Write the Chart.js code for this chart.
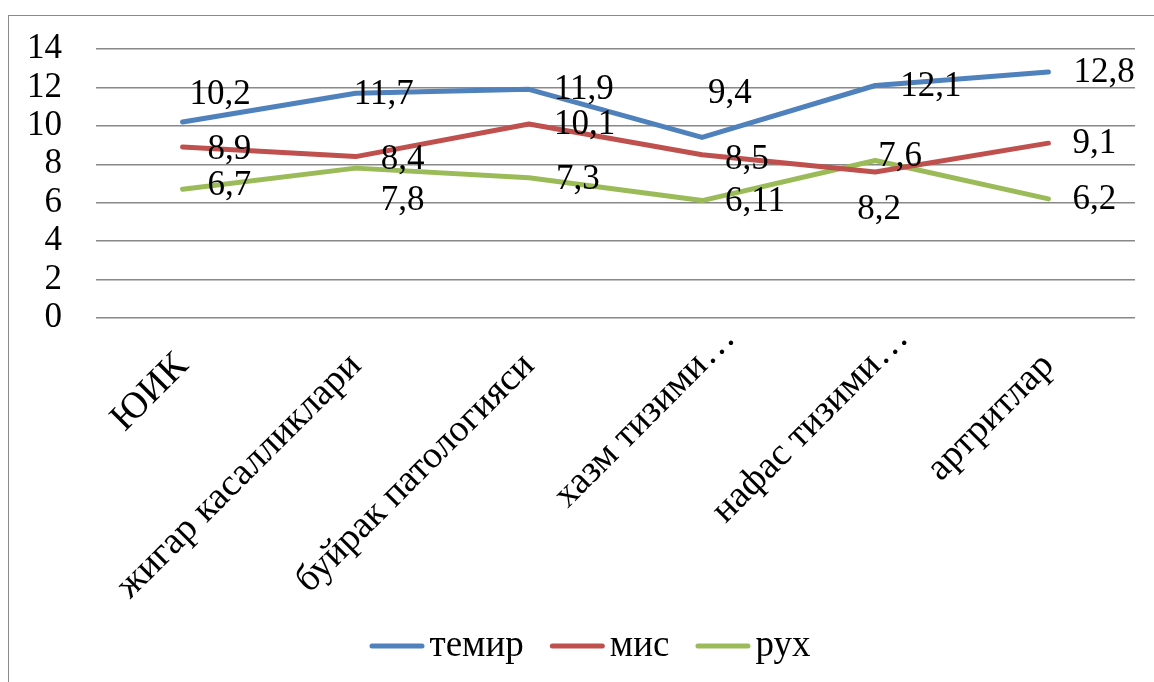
<!DOCTYPE html>
<html>
<head>
<meta charset="utf-8">
<script src="https://cdn.jsdelivr.net/npm/chart.js@4/dist/chart.umd.min.js"></script>
<style>
  html, body { margin: 0; padding: 0; background: #fff; overflow: hidden; }
  #frame { position: absolute; left: 8px; top: 15px; width: 1400px; height: 900px; border: 1px solid #8a8a8a; }
  #c { position: absolute; left: 0; top: 0; }
</style>
</head>
<body>
<div id="frame"></div>
<canvas id="c" width="1154" height="682"></canvas>
<script>
// Categories and series
const categories = ['ЮИК', 'жигар касалликлари', 'буйрак патологияси', 'хазм тизими…', 'нафас тизими…', 'артритлар'];
const seriesNames = ['темир', 'мис', 'рух'];
const temir = [10.2, 11.7, 11.9, 9.4, 12.1, 12.8];
const mis   = [8.9, 8.4, 10.1, 8.5, 7.6, 9.1];
const rukh  = [6.7, 7.8, 7.3, 6.11, 8.2, 6.2];
const yTicks = [0, 2, 4, 6, 8, 10, 12, 14];

const colors = ['#4F81BD', '#C0504D', '#9BBB59'];
const FONT = "'Liberation Serif', serif";
const ELLIPSIS = '…';

// Value label placement: [left-edge offset, vertical offset] from each point
const labelOffsets = [
  [[7, -27], [-2, 2], [25, 0], [6, -44], [25, 1], [25, 1]],
  [[25, 3], [25, 3], [25, 1], [23, 5], [3, -15], [24, 1]],
  [[25, -3], [25, 33], [27, 2], [23, 1], [-18, 49], [24, 1]]
];

const valueLabels = {
  id: 'valueLabels',
  afterDatasetsDraw(chart) {
    const ctx = chart.ctx;
    ctx.save();
    ctx.font = '35px ' + FONT;
    ctx.fillStyle = '#000';
    ctx.textAlign = 'left';
    ctx.textBaseline = 'middle';
    chart.data.datasets.forEach((ds, i) => {
      chart.getDatasetMeta(i).data.forEach((pt, j) => {
        const off = labelOffsets[i][j];
        ctx.fillText(String(ds.data[j]).replace('.', ','), pt.x + off[0], pt.y + off[1]);
      });
    });
    ctx.restore();
  }
};

// Truncated category names: the axis anchors the words, the ellipsis trails past the tick
const trailingEllipsis = {
  id: 'trailingEllipsis',
  afterDraw(chart) {
    const scale = chart.scales.x;
    const items = scale.getLabelItems();
    const ctx = chart.ctx;
    items.forEach((item, i) => {
      if (!categories[i].endsWith(ELLIPSIS)) return;
      const o = item.options;
      ctx.save();
      ctx.translate(o.translation[0], o.translation[1]);
      ctx.rotate(o.rotation);
      ctx.font = item.font.string;
      ctx.fillStyle = '#000';
      ctx.textAlign = 'left';
      ctx.textBaseline = o.textBaseline;
      ctx.fillText(ELLIPSIS, 1, item.textOffset);
      ctx.restore();
    });
  }
};

const bottomLegend = {
  id: 'bottomLegend',
  afterDraw(chart) {
    const ctx = chart.ctx;
    ctx.save();
    ctx.font = '37px ' + FONT;
    ctx.textBaseline = 'middle';
    ctx.textAlign = 'left';
    const lineW = 55, gapText = 5, gapItem = 26, y = 646;
    const items = chart.data.datasets.map(d => ({ label: d.label, color: d.borderColor, w: ctx.measureText(d.label).width }));
    const total = items.reduce((s, it) => s + lineW + gapText + it.w, 0) + gapItem * (items.length - 1);
    let x = 590 - total / 2;
    items.forEach(it => {
      ctx.strokeStyle = it.color;
      ctx.lineWidth = 5;
      ctx.lineCap = 'round';
      ctx.beginPath();
      ctx.moveTo(x + 2.5, y);
      ctx.lineTo(x + lineW - 2.5, y);
      ctx.stroke();
      x += lineW + gapText;
      ctx.fillStyle = '#000';
      ctx.fillText(it.label, x, y);
      x += it.w + gapItem;
    });
    ctx.restore();
  }
};

const seriesData = [temir, mis, rukh];

function draw() {
  new Chart(document.getElementById('c'), {
    type: 'line',
    data: {
      labels: categories,
      datasets: seriesData.map((d, i) => ({
        label: seriesNames[i],
        data: d,
        borderColor: colors[i],
        backgroundColor: colors[i],
        borderWidth: 5,
        borderCapStyle: 'round',
        borderJoinStyle: 'round',
        pointRadius: 0,
        tension: 0,
        fill: false
      }))
    },
    options: {
      responsive: false,
      animation: false,
      layout: { padding: { top: 49, right: 19, left: 0, bottom: 0 } },
      plugins: { legend: { display: false }, tooltip: { enabled: false } },
      scales: {
        x: {
          offset: true,
          grid: { display: false },
          border: { display: false },
          ticks: {
            color: '#000',
            font: { family: FONT, size: 38 },
            minRotation: 45,
            maxRotation: 45,
            autoSkip: false,
            padding: 18,
            callback: (v, i) => categories[i].endsWith(ELLIPSIS) ? categories[i].slice(0, -ELLIPSIS.length) : categories[i]
          },
          afterFit(s) { s.height = 364; }
        },
        y: {
          min: 0,
          max: 14,
          afterBuildTicks(s) { s.ticks = yTicks.map(v => ({ value: v })); },
          grid: { color: '#888888', lineWidth: 1.5, drawTicks: false },
          border: { display: false },
          ticks: {
            color: '#000',
            autoSkip: false,
            font: { family: FONT, size: 35 },
            padding: 34
          },
          afterFit(s) { s.width = 96; s.paddingTop = 0; s.paddingBottom = 0; }
        }
      }
    },
    plugins: [valueLabels, trailingEllipsis, bottomLegend]
  });
}

Promise.all([
  document.fonts.load("35px 'Liberation Serif'"),
  document.fonts.load("35px 'Liberation Serif'", 'ЮИК')
]).then(draw, draw);
</script>
</body>
</html>
